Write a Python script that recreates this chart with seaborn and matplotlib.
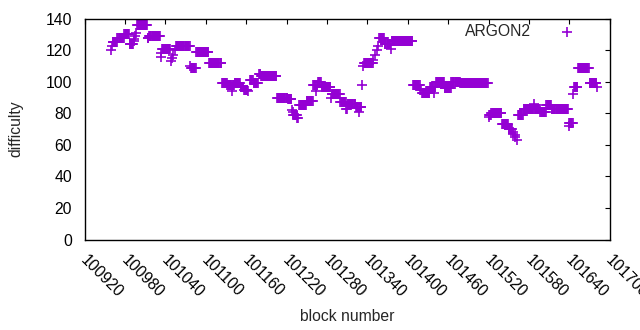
import numpy as np
import pandas as pd
import matplotlib
matplotlib.use("Agg")
import matplotlib.pyplot as plt
import matplotlib.transforms as mtransforms
import seaborn as sns

# runs of consecutive blocks with the same difficulty
run_start = [100960, 100961, 100962, 100969, 100979, 100987, 100993, 100994, 100995, 100996,
             100998, 101014, 101016, 101033, 101034, 101035, 101048, 101050, 101052, 101054,
             101056, 101077, 101078, 101086, 101105, 101124, 101132, 101139, 101140, 101143,
             101152, 101157, 101163, 101166, 101171, 101179, 101182, 101206, 101222, 101228,
             101229, 101230, 101236, 101239, 101250, 101260, 101264, 101265, 101267, 101272,
             101286, 101287, 101300, 101309, 101311, 101323, 101328, 101329, 101332, 101334,
             101335, 101349, 101351, 101354, 101356, 101358, 101366, 101375, 101376, 101408,
             101419, 101421, 101433, 101439, 101440, 101442, 101455, 101465, 101478, 101520,
             101521, 101524, 101540, 101550, 101556, 101557, 101559, 101560, 101562, 101564,
             101572, 101587, 101588, 101597, 101606, 101614, 101639, 101640, 101646, 101647,
             101653, 101670, 101681]
run_end = [100960, 100961, 100968, 100978, 100986, 100992, 100993, 100994, 100995, 100996,
           101013, 101015, 101032, 101033, 101034, 101047, 101048, 101050, 101052, 101054,
           101076, 101077, 101085, 101104, 101123, 101131, 101138, 101139, 101142, 101151,
           101156, 101162, 101163, 101170, 101177, 101181, 101205, 101221, 101227, 101228,
           101229, 101235, 101237, 101249, 101259, 101263, 101264, 101266, 101271, 101285,
           101286, 101299, 101308, 101310, 101322, 101327, 101328, 101331, 101332, 101334,
           101348, 101349, 101351, 101354, 101356, 101365, 101374, 101375, 101407, 101418,
           101420, 101432, 101438, 101439, 101441, 101454, 101464, 101477, 101519, 101520,
           101523, 101539, 101549, 101555, 101556, 101557, 101559, 101560, 101562, 101571,
           101586, 101587, 101596, 101605, 101613, 101638, 101639, 101645, 101646, 101652,
           101669, 101680, 101681]
run_difficulty = [120, 123, 125, 128, 130, 124, 126, 127, 129, 131,
                  136, 128, 129, 116, 118, 121, 113, 115, 117, 120,
                  123, 110, 109, 119, 112, 99, 98, 94, 98, 99,
                  97, 95, 94, 101, 99, 105, 104, 90, 89, 82,
                  81, 79, 77, 85, 88, 98, 94, 98, 100, 97,
                  90, 92, 87, 83, 86, 84, 81, 84, 98, 110,
                  112, 114, 117, 120, 123, 128, 124, 121, 126, 98,
                  95, 93, 97, 93, 97, 100, 96, 100, 99, 78,
                  79, 80, 73, 70, 68, 67, 66, 65, 63, 79,
                  83, 86, 83, 81, 85, 83, 72, 74, 92, 97,
                  109, 99, 97]

x_ticks = np.arange(100920, 101701, 60)
y_ticks = np.arange(0, 141, 20)

blocks = np.concatenate([np.arange(s, e + 1) for s, e in zip(run_start, run_end)])
difficulty = np.concatenate([np.full(e - s + 1, d) for s, e, d in zip(run_start, run_end, run_difficulty)])
df = pd.DataFrame({"block": blocks, "difficulty": difficulty})

sns.set_style("white")
plt.rcParams["font.family"] = ["Liberation Sans", "DejaVu Sans"]
fs = 11.3

fig, ax = plt.subplots(figsize=(6.4, 3.3), dpi=100)
fig.subplots_adjust(left=84.5 / 640, right=609.7 / 640, top=1 - 18.7 / 330, bottom=1 - 239.6 / 330)

sns.scatterplot(data=df, x="block", y="difficulty", marker="+", s=42, color="#9400d3",
                linewidth=1.2, label="ARGON2", legend=False, ax=ax)

ax.set_xlim(100920, 101700)
ax.set_ylim(0, 140)
ax.set_xticks(x_ticks)
ax.set_yticks(y_ticks)
ax.tick_params(direction="in", length=3.5, width=0.8, top=True, right=True,
               labelsize=fs, colors="black")
ax.tick_params(axis="x", pad=9)
ax.tick_params(axis="y", pad=9)
shift = mtransforms.ScaledTranslation(4 / 100, 0, fig.dpi_scale_trans)
for lab in ax.get_xticklabels():
    lab.set_rotation(-45)
    lab.set_ha("left")
    lab.set_rotation_mode("anchor")
    lab.set_transform(lab.get_transform() + shift)
for sp in ax.spines.values():
    sp.set_visible(True)
    sp.set_color("black")
    sp.set_linewidth(1.0)

ax.set_xlabel("block number", fontsize=fs, labelpad=6)
ax.set_ylabel("difficulty", fontsize=fs, labelpad=16)

ax.legend(loc="center right", bbox_to_anchor=(590.5 / 640, 1 - 32 / 330),
          bbox_transform=fig.transFigure, frameon=False, markerfirst=False,
          handlelength=3.0, handletextpad=0.8, borderpad=0, borderaxespad=0,
          fontsize=fs)

plt.savefig("out.png", dpi=100)
